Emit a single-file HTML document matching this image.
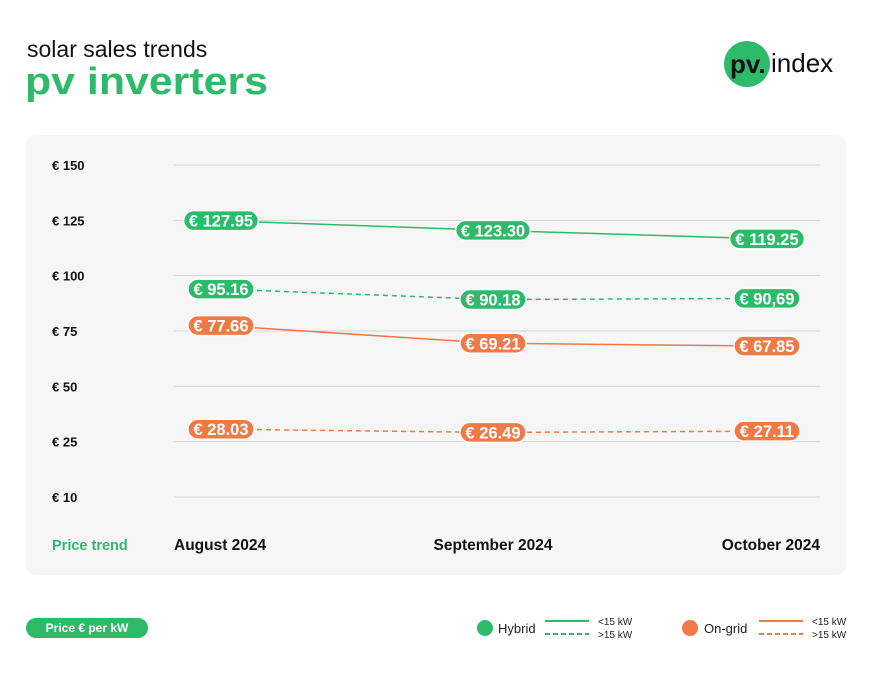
<!DOCTYPE html>
<html><head><meta charset="utf-8"><style>
body{margin:0;width:872px;height:679px;background:#fff;font-family:"Liberation Sans",sans-serif;overflow:hidden}
svg{display:block}
</style></head><body>
<svg width="872" height="679">
<text x="27" y="57" font-size="23" fill="#111">solar sales trends</text>
<text x="25" y="94" font-size="38" font-weight="bold" fill="#2dbb6a" textLength="243" lengthAdjust="spacingAndGlyphs">pv inverters</text>
<g>
<circle cx="747" cy="64" r="23" fill="#2dbb6a"/>
<text x="730" y="73" font-size="26" font-weight="bold" fill="#111">pv.</text>
<text x="771" y="72" font-size="26" fill="#111">index</text>
</g>
<rect x="26" y="135" width="820" height="440" rx="10" fill="#f6f6f6"/>
<g id="grid"></g>
<g id="lines"></g>
<g id="labels"></g>
<text x="52" y="550" font-size="14.5" font-weight="bold" fill="#2dbb6a">Price trend</text>
<g id="xlabels"></g>
<g>
<rect x="26" y="618" width="122" height="20" rx="10" fill="#2dbb6a"/>
<text x="87" y="632" font-size="12" font-weight="bold" fill="#fff" text-anchor="middle">Price € per kW</text>
</g>
<g>
<circle cx="485" cy="628" r="8" fill="#2dbb6a"/>
<text x="498" y="633" font-size="13" fill="#222">Hybrid</text>
<line x1="545" y1="621" x2="589" y2="621" stroke="#2dbb6a" stroke-width="2"/>
<line x1="545" y1="634" x2="589" y2="634" stroke="#2dbb6a" stroke-width="2" stroke-dasharray="5,3"/>
<text x="598" y="625" font-size="10" fill="#222">&lt;15 kW</text>
<text x="598" y="638" font-size="10" fill="#222">&gt;15 kW</text>
</g>
<g>
<circle cx="690" cy="628" r="8" fill="#f07a45"/>
<text x="704" y="633" font-size="13" fill="#222">On-grid</text>
<line x1="759" y1="621" x2="803" y2="621" stroke="#f07a45" stroke-width="2"/>
<line x1="759" y1="634" x2="803" y2="634" stroke="#f07a45" stroke-width="2" stroke-dasharray="5,3"/>
<text x="812" y="625" font-size="10" fill="#222">&lt;15 kW</text>
<text x="812" y="638" font-size="10" fill="#222">&gt;15 kW</text>
</g>
</svg>
<script>
const categories=["August 2024","September 2024","October 2024"];
const tickLabels=["€ 150","€ 125","€ 100","€ 75","€ 50","€ 25","€ 10"];
const hybridLow=[127.95,123.30,119.25];
const hybridHigh=[95.16,90.18,90.69];
const ongridLow=[77.66,69.21,67.85];
const ongridHigh=[28.03,26.49,27.11];
const hybridLowText=["€ 127.95","€ 123.30","€ 119.25"];
const hybridHighText=["€ 95.16","€ 90.18","€ 90,69"];
const ongridLowText=["€ 77.66","€ 69.21","€ 67.85"];
const ongridHighText=["€ 28.03","€ 26.49","€ 27.11"];
const NS="http://www.w3.org/2000/svg";
function y(v){return 487.7-v*2.087;}
function tickY(i){return 165+i*(332/6);}
function x(i){return [221,493,767][i];}
function mk(tag,attrs,parent){const e=document.createElementNS(NS,tag);for(const k in attrs)e.setAttribute(k,attrs[k]);document.getElementById(parent).appendChild(e);return e;}
tickLabels.forEach((lab,i)=>{
 const l=mk('line',{x1:174,x2:820,y1:tickY(i),y2:tickY(i),stroke:'#d4d4d4','stroke-width':1},'grid');
 
 
 const t=mk('text',{x:52,y:tickY(i)+5,'font-size':13,'font-weight':'bold',fill:'#111'},'grid');
 t.textContent=lab;
 
 
});
const xa=['start','middle','end'],xp=[174,493,820];
categories.forEach((c,i)=>{
 const t=mk('text',{x:xp[i],y:550,'font-size':15.5,'font-weight':'bold',fill:'#111','text-anchor':xa[i]},'xlabels');
 t.textContent=c;
 
 
});
function series(vals,txt,color,dash,name){
 const p=mk('polyline',{points:vals.map((v,i)=>x(i)+','+y(v)).join(' '),fill:'none',stroke:color,'stroke-width':1.5,'stroke-dasharray':dash},'lines');
 
 
 vals.forEach((v,i)=>{
  const g=mk('g',{},'labels');
  
  
  const w=txt[i].length*8.6+6;
  const r=document.createElementNS(NS,'rect');
  r.setAttribute('x',x(i)-w/2);r.setAttribute('y',y(v)-10);r.setAttribute('width',w);r.setAttribute('height',20);r.setAttribute('rx',10);r.setAttribute('fill',color);r.setAttribute('stroke','#fff');r.setAttribute('stroke-width',1.5);
  g.appendChild(r);
  const t=document.createElementNS(NS,'text');
  t.setAttribute('x',x(i));t.setAttribute('y',y(v)+6);t.setAttribute('font-size',16.5);t.setAttribute('font-weight','bold');t.setAttribute('fill','#fff');t.setAttribute('text-anchor','middle');
  t.textContent=txt[i];g.appendChild(t);
 });
}
series(hybridLow,hybridLowText,'#2dbb6a','none','hybrid-low');
series(hybridHigh,hybridHighText,'#2dbb6a','5,4','hybrid-high');
series(ongridLow,ongridLowText,'#f07a45','none','ongrid-low');
series(ongridHigh,ongridHighText,'#f07a45','5,4','ongrid-high');
</script>
</body></html>
